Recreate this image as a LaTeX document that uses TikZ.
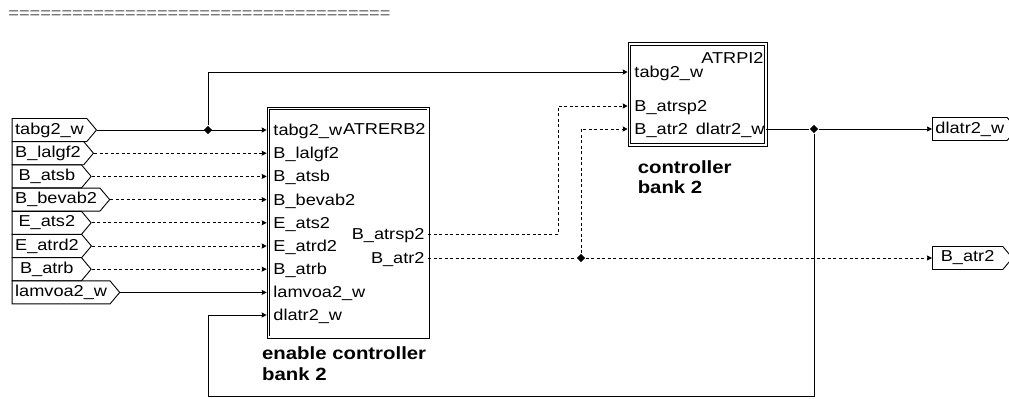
\documentclass[tikz,border=0pt]{standalone}
\usepackage{fontspec}
\setmainfont[FakeStretch=1.15]{Liberation Sans}
\usetikzlibrary{arrows.meta,shapes.symbols,shapes.geometric}

\begin{document}
\begin{tikzpicture}[x=1bp,y=-1bp,>={Stealth[length=5bp,width=5bp,inset=0.5bp]},line width=0.9bp,
  every node/.style={font=\fontsize{15.8bp}{18bp}\selectfont},
  sig/.style={draw,signal,signal to=east,signal pointer angle=100,minimum height=23bp,minimum width=79bp,inner xsep=3bp,inner ysep=0pt,anchor=west},
  blk/.style={draw,double,double distance=1.8bp,line width=0.8bp,outer sep=0pt,inner sep=0pt,anchor=north west},
  port/.style={inner sep=0pt},
  dot/.style={diamond,fill,inner sep=0pt,minimum size=8.5bp},
  sig2/.style={dash pattern=on 3bp off 2.5bp},
  title/.style={font=\fontsize{17.7bp}{20.5bp}\selectfont\bfseries,align=left,inner sep=0pt,anchor=north west}]
\useasboundingbox (0,0) rectangle (1009,398);
\node[port,anchor=base west,black!65] (hdr) at (8,18.5) {====================================};
% blocks
\node[blk,minimum width=159.7bp,minimum height=228.7bp] (erb) at (268.5,108.5) {};
\node[blk,minimum width=136.4bp,minimum height=100.8bp] (rpi) at (629.5,44.1) {};
\node[port,anchor=base east] (erbn) at (426,134) {ATRERB2};
\node[port,anchor=base east] (rpin) at (764,63.3) {ATRPI2};
\node[title] (erbt) at (261.7,346.5) {enable controller\\bank 2};
\node[title] (rpit) at (637.3,160) {controller\\bank 2};
% inputs of ATRERB2
\foreach \t/\s [count=\i] in {tabg2\_w/solid,B\_lalgf2/sig2,B\_atsb/sig2,B\_bevab2/sig2,E\_ats2/sig2,E\_atrd2/sig2,B\_atrb/sig2,lamvoa2\_w/solid}{
  \node[sig] (in\i) at (11.7,{130+(\i-1)*23.2}) {\t};
  \node[port,anchor=base west] (erbl\i) at (273,{135.5+(\i-1)*23.2}) {\t};
  \coordinate (erbi\i) at (erb.west |- in\i.east);
  \draw[->,\s,shorten >=1.8bp] (in\i.east) -- (erbi\i);
}
\node[port,anchor=base west] (erbl9) at (273,320.5) {dlatr2\_w};
\coordinate (erbi9) at (erb.west |- 0,315);
\node[port,anchor=base east] (erbm1) at (425,239.5) {B\_atrsp2};
\node[port,anchor=base east] (erbm2) at (425,263.5) {B\_atr2};
\coordinate (erbo1) at (erb.east |- 0,234);
\coordinate (erbo2) at (erb.east |- 0,258);
% ports of ATRPI2
\node[port,anchor=base west] (rpil1) at (634,77.5) {tabg2\_w};
\node[port,anchor=base west] (rpil2) at (634,111.5) {B\_atrsp2};
\node[port,anchor=base west] (rpil3) at (634,134.5) {B\_atr2};
\node[port,anchor=base east] (rpim1) at (765,134.5) {dlatr2\_w};
\coordinate (rpii1) at (rpi.west |- 0,72);
\coordinate (rpii2) at (rpi.west |- 0,106);
\coordinate (rpii3) at (rpi.west |- 0,129);
\coordinate (rpio1) at (rpi.east |- 0,129);
% outputs
\node[sig,minimum width=80bp] (out1) at (932,129) {dlatr2\_w};
\node[sig,minimum width=80bp] (out2) at (932,258) {B\_atr2};
% junctions and lines
\node[dot] (j1) at (208,130) {};
\node[dot] (j2) at (581,258) {};
\node[dot] (j3) at (814,129) {};
\draw[->,shorten >=1.8bp] (j1) |- (rpii1);
\draw[->,sig2,shorten >=1.8bp] (erbo1) -- (558,234) |- (rpii2);
\draw[sig2] (erbo2) -- (j2);
\draw[->,sig2] (j2) -- (out2.west);
\draw[->,sig2,shorten >=1.8bp] (j2) |- (rpii3);
\draw (rpio1) -- (j3);
\draw[->] (j3) -- (out1.west);
\draw[->,shorten >=1.8bp] (j3) |- (208,396) |- (erbi9);
\end{tikzpicture}
\end{document}
